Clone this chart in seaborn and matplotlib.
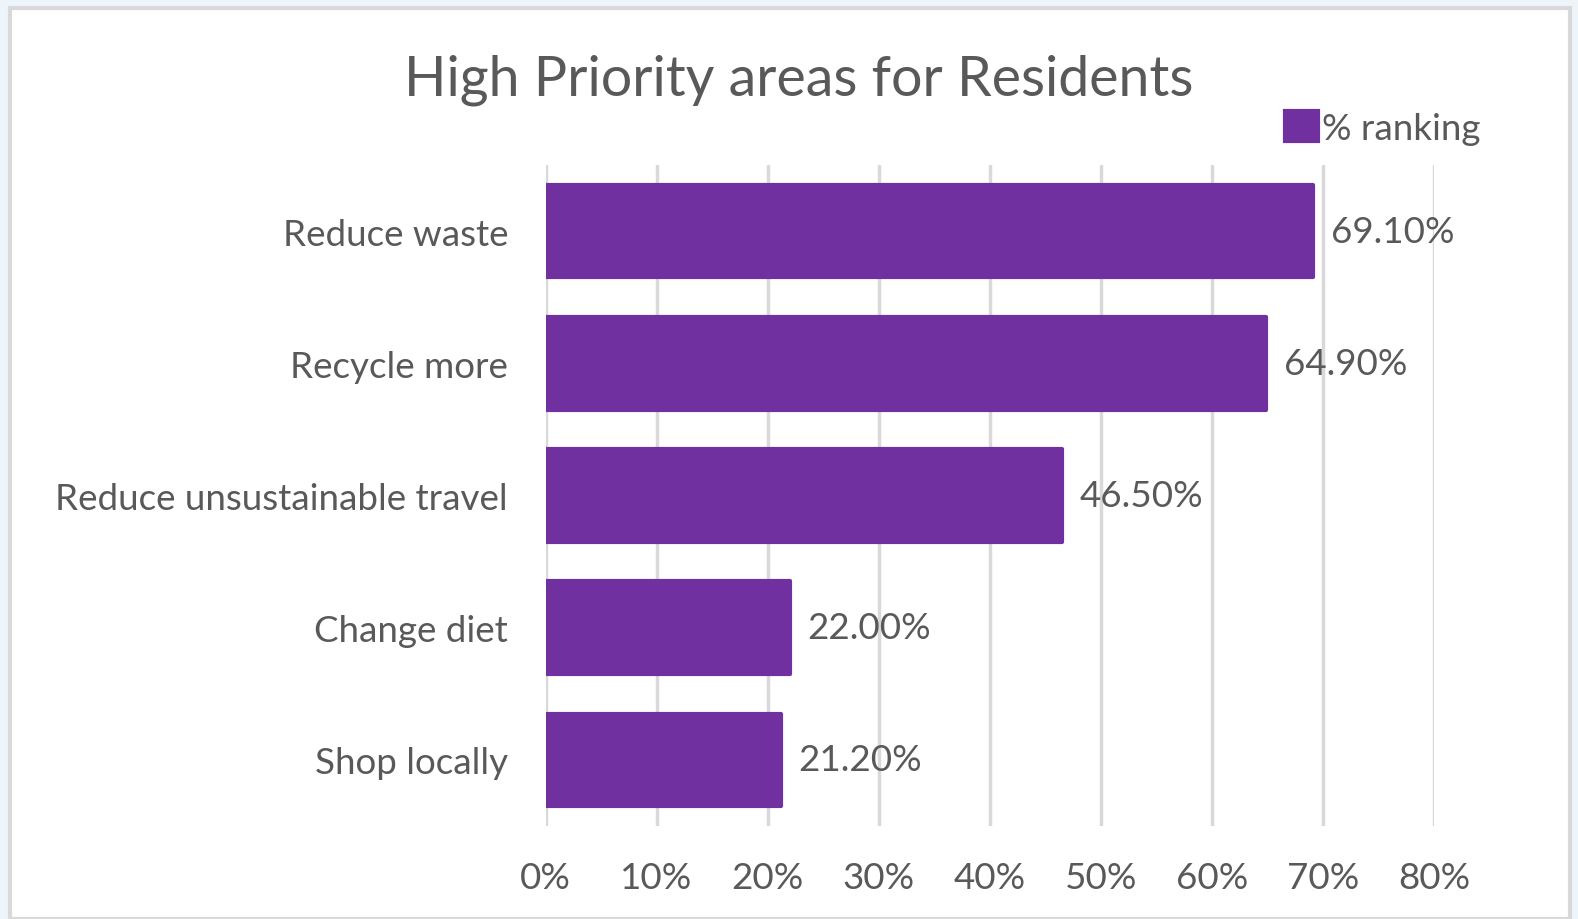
import pandas as pd
import seaborn as sns
import matplotlib.pyplot as plt
from matplotlib.patches import Rectangle

# Datos del gráfico
categorias = ["Reduce waste", "Recycle more", "Reduce unsustainable travel",
              "Change diet", "Shop locally"]
valores = [69.1, 64.9, 46.5, 22.0, 21.2]
ticks_x = [0, 10, 20, 30, 40, 50, 60, 70, 80]
etiquetas_x = [f"{t}%" for t in ticks_x]

df = pd.DataFrame({"Categoria": categorias, "% ranking": valores})

sns.set_theme(style="white")
plt.rcParams["font.family"] = ["Lato", "DejaVu Sans"]
gris = "#595959"
morado = "#7030A0"
fs = 26.5

fig = plt.figure(figsize=(15.78, 9.2), dpi=100)
fig.patch.set_facecolor("#eef5fa")
# panel blanco con borde gris
fig.patches.append(Rectangle((10 / 1578, 0), 1560 / 1578, 1 - 9 / 920,
                             transform=fig.transFigure, facecolor="white",
                             edgecolor="#d9d9d9", linewidth=3, zorder=-10))

ax = fig.add_axes([0.3457, 0.101, 0.5630, 0.7186])
ax.set_facecolor("none")
sns.barplot(data=df, x="% ranking", y="Categoria", color=morado, width=0.70,
            saturation=1, ax=ax, zorder=3, label="% ranking")

for p in ax.patches:
    p.set_edgecolor(morado)
    p.set_linewidth(3)
    p.set_joinstyle("round")

ax.set_xlim(0, 80)
ax.set_ylim(4.5, -0.5)
ax.set_xticks(ticks_x)
ax.set_xticklabels(etiquetas_x, fontsize=fs, color=gris)
ax.tick_params(axis="y", labelsize=fs, labelcolor=gris, length=0, pad=27)
ax.tick_params(axis="x", length=0, pad=25)
ax.xaxis.grid(True, color="#d9d9d9", linewidth=2.5, zorder=0)
ax.set_axisbelow(True)
for s in ax.spines.values():
    s.set_visible(False)
ax.set_xlabel("")
ax.set_ylabel("")

for i, v in enumerate(valores):
    ax.text(v + 1.6, i, f"{v:.2f}%", va="center", ha="left", fontsize=fs,
            color=gris, zorder=5)

fig.text(0.506, 0.913, "High Priority areas for Residents", ha="center",
         va="center", fontsize=40, color=gris)

leg = ax.legend(loc="upper right", bbox_to_anchor=(1.073, 1.11), frameon=False,
                fontsize=fs, handlelength=0.9, handleheight=0.9,
                handletextpad=0.1, borderpad=0)
for t in leg.get_texts():
    t.set_color(gris)

fig.savefig("out.png", dpi=100, facecolor=fig.get_facecolor())
